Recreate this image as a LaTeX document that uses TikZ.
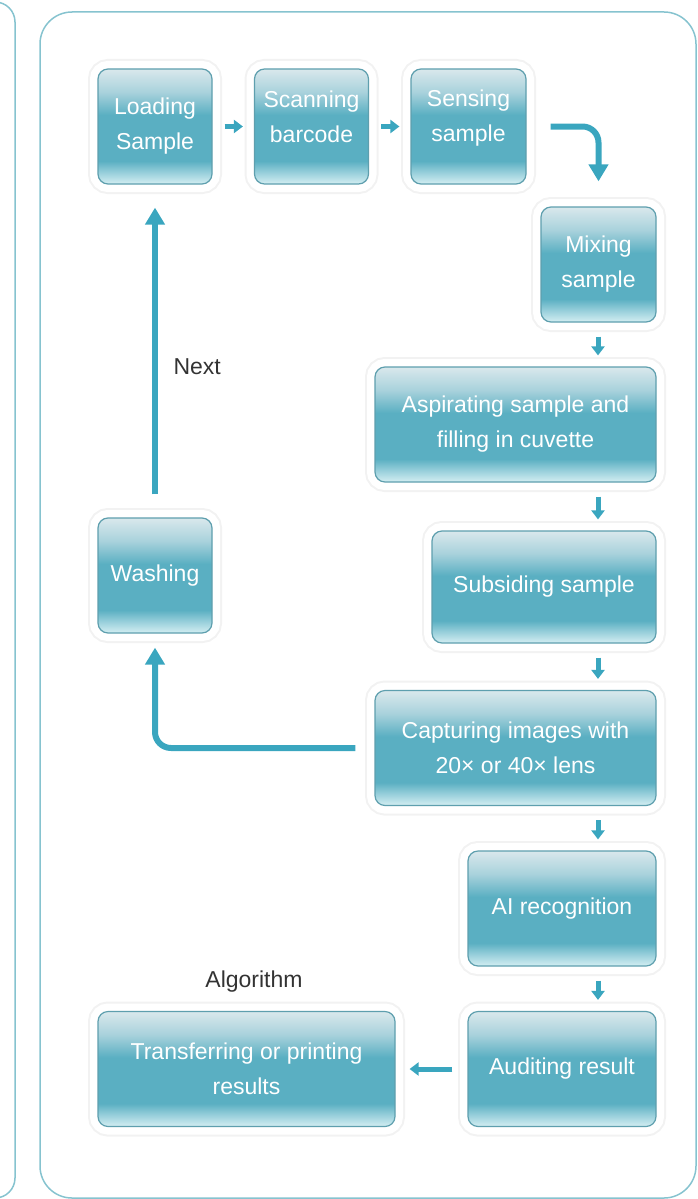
\documentclass[tikz,border=0pt]{standalone}
\usepackage{fontspec}
\setmainfont{Liberation Sans}
\usepackage{tikz}
\usetikzlibrary{arrows.meta}
\definecolor{panelLine}{HTML}{86C3CF}
\definecolor{flowColor}{HTML}{3AA6BF}
\definecolor{boxEdge}{HTML}{5E9FAE}
\definecolor{glassTop}{HTML}{D9E8EC}
\definecolor{glassHigh}{HTML}{A9D2DC}
\definecolor{glassMid}{HTML}{5AAFC2}
\definecolor{glassLow}{HTML}{8CC9D6}
\definecolor{glassBot}{HTML}{D4EEF2}
\definecolor{labelGray}{HTML}{333333}
\pgfdeclareverticalshading{glassy}{100bp}{color(0bp)=(glassBot); color(25bp)=(glassBot); color(31bp)=(glassLow); color(35bp)=(glassMid); color(55bp)=(glassMid); color(65bp)=(glassHigh); color(75bp)=(glassTop); color(100bp)=(glassTop)}
\newcommand{\boxHeight}{115pt}
\newcommand{\arrowColumn}{598}
\tikzset{
	stepbox/.style={draw=boxEdge, line width=1.2pt, rounded corners=10pt, shading=glassy, text=white, align=center, inner sep=0pt, minimum height=\boxHeight, font=\fontsize{23}{35}\selectfont, preaction={draw=black!5, line width=20pt}, preaction={draw=white, line width=16pt}},
	lift/.style={text depth=#1},
	flow/.style={draw=flowColor, line width=5pt, -{Triangle[width=13pt,length=9pt]}, shorten <=12pt, shorten >=11pt},
	bigflow/.style={draw=flowColor, line width=6pt, rounded corners=16pt, -{Triangle[width=19pt,length=17pt]}},
	panel/.style={draw=panelLine, line width=1.5pt},
	caption/.style={text=labelGray, font=\fontsize{23}{28}\selectfont}
}
\begin{document}
\begin{tikzpicture}[x=1pt, y=-1pt]
		\useasboundingbox (0,0) rectangle (697,1199);
		
		\draw[panel, rounded corners=20pt] (-40,2) rectangle (15,1198);
		\draw[panel, rounded corners=32pt] (40,12) rectangle (696,1198);
		
		\node[stepbox, minimum width=114pt] (load) at (155,126.5) {Loading\\Sample};
		\node[stepbox, minimum width=114pt, lift=20pt] (scan) at (311.5,126.5) {Scanning\\barcode};
		\node[stepbox, minimum width=115pt, lift=22pt] (sense) at (468.5,126.5) {Sensing\\sample};
		\node[stepbox, minimum width=115pt] (mix) at (598.5,264.5) {Mixing\\sample};
		\node[stepbox, minimum width=281pt] (aspirate) at (515.5,424.5) {Aspirating sample and\\filling in cuvette};
		\node[stepbox, minimum width=224pt, minimum height=112pt] (subside) at (544,587) {Subsiding sample};
		\node[stepbox, minimum width=281pt] (capture) at (515.5,748) {Capturing images with\\20× or 40× lens};
		\node[stepbox, minimum width=188pt] (ai) at (562,908.5) {AI recognition};
		\node[stepbox, minimum width=188pt] (audit) at (562,1069) {Auditing result};
		\node[stepbox, minimum width=297pt] (transfer) at (246.5,1069) {Transferring or printing\\results};
		\node[stepbox, minimum width=114pt] (wash) at (155,575.5) {Washing};
		
		\node[caption, anchor=west] (nextlabel) at (170,367) {Next};
		\node[caption] (algolabel) at (254,982) {Algorithm};
		
		\coordinate (col) at (\arrowColumn,0);
		\draw[flow] (load) -- (scan);
		\draw[flow] (scan) -- (sense);
		\foreach \from/\to in {mix/aspirate, aspirate/subside, subside/capture, capture/ai, ai/audit}
		{
			\draw[flow, shorten <=14pt] (col |- \from.south) -- (col |- \to.north);
		}
		\draw[flow, shorten <=15pt, shorten >=14pt] (audit) -- (transfer);
		
		\draw[bigflow, shorten >=25pt] ([xshift=24pt]sense.east) -| (mix.north);
		\draw[bigflow, shorten <=23pt, shorten >=23pt] (wash.north) -- (load.south);
		\draw[bigflow, shorten >=14pt] ([xshift=-19pt]capture.west) -| (wash.south);
	\end{tikzpicture}
\end{document}
